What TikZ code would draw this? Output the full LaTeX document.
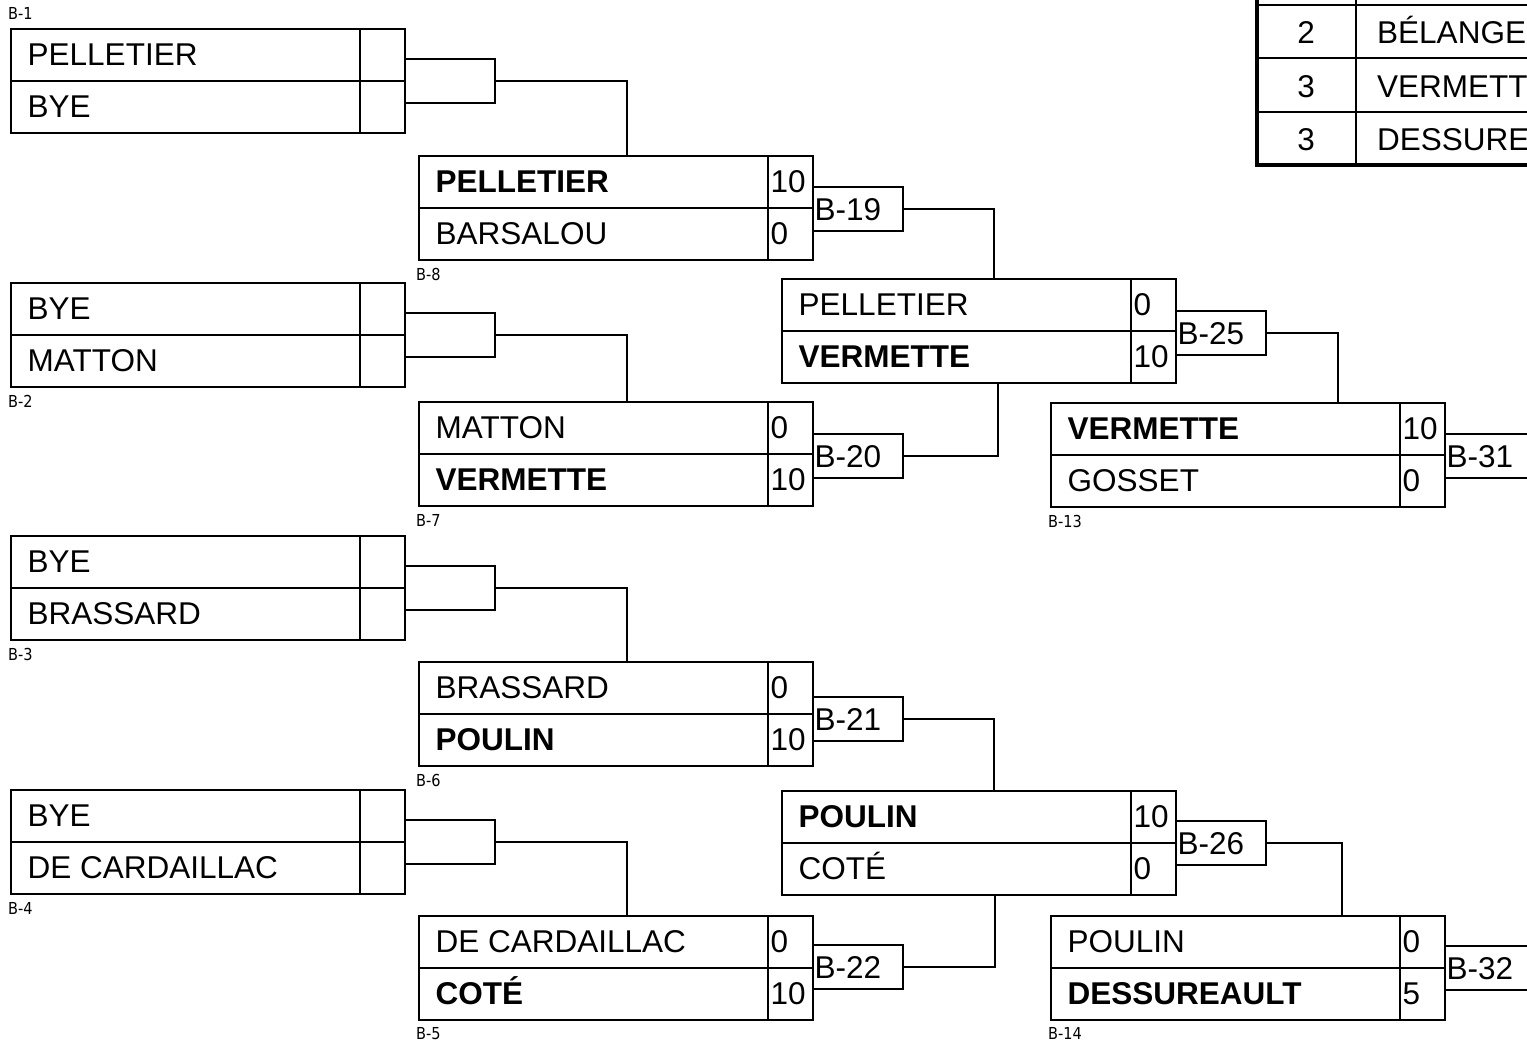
\documentclass[tikz,border=0pt]{standalone}
\usepackage{fontspec}
\setmainfont{Liberation Sans}
\newfontfamily\smallfont[FakeStretch=0.88]{DejaVu Sans}
\tikzset{
  ln/.style={line width=2pt},
  thick border/.style={line width=4pt},
  mbox/.style={draw, line width=2pt, minimum width=394pt, minimum height=103.5pt, inner sep=0pt, anchor=north west},
  lbox/.style={draw, line width=2pt, minimum width=90pt, minimum height=44pt, inner sep=0pt, anchor=north west},
  nm/.style={anchor=base west, inner sep=0pt, font=\fontsize{31.5}{36}\selectfont},
  nmc/.style={anchor=base, inner sep=0pt, font=\fontsize{31.5}{36}\selectfont},
  smalllbl/.style={anchor=base west, inner sep=0pt, font=\smallfont\fontsize{16.5}{18}\selectfont},
}
\newcommand{\matchbox}[7]{%
  \node[mbox] (#1) at (#2,#3) {};
  \draw[ln] (#1.west) -- (#1.east);
  \draw[ln] ([xshift=-46pt]#1.north east) -- ([xshift=-46pt]#1.south east);
  \node[nm] (#1a) at ([xshift=17.5pt,yshift=-37.5pt]#1.north west) {#4};
  \node[nm] (#1as) at ([xshift=-43.5pt,yshift=-37.5pt]#1.north east) {#5};
  \node[nm] (#1b) at ([xshift=17.5pt,yshift=-89.5pt]#1.north west) {#6};
  \node[nm] (#1bs) at ([xshift=-43.5pt,yshift=-89.5pt]#1.north east) {#7};
}
\newcommand{\gamebox}[4]{%
  \node[lbox] (#1) at (#2,#3) {};
  \node[nm] (#1t) at ([xshift=2.5pt,yshift=-11.5pt]#1.west) {#4};
}
\begin{document}
\begin{tikzpicture}[x=1pt,y=-1pt]
\clip (0,0) rectangle (1527,1041);
\fill[white] (0,0) rectangle (1527,1041);

% round 1
\matchbox{m1}{10}{28}{PELLETIER}{}{BYE}{}
\matchbox{m2}{10}{282}{BYE}{}{MATTON}{}
\matchbox{m3}{10}{535}{BYE}{}{BRASSARD}{}
\matchbox{m4}{10}{789}{BYE}{}{DE CARDAILLAC}{}
\node[smalllbl] (l1) at ([xshift=-2pt,yshift=8pt]m1.north west) {B-1};
\node[smalllbl] (l2) at ([xshift=-2pt,yshift=-20pt]m2.south west) {B-2};
\node[smalllbl] (l3) at ([xshift=-2pt,yshift=-20pt]m3.south west) {B-3};
\node[smalllbl] (l4) at ([xshift=-2pt,yshift=-20pt]m4.south west) {B-4};
\gamebox{e1}{404}{58}{}
\gamebox{e2}{404}{312}{}
\gamebox{e3}{404}{565}{}
\gamebox{e4}{404}{819}{}

% round 2
\matchbox{m8}{418}{155}{\bfseries PELLETIER}{10}{BARSALOU}{0}
\matchbox{m7}{418}{401}{MATTON}{0}{\bfseries VERMETTE}{10}
\matchbox{m6}{418}{661}{BRASSARD}{0}{\bfseries POULIN}{10}
\matchbox{m5}{418}{915}{DE CARDAILLAC}{0}{\bfseries COTÉ}{10}
\node[smalllbl] (l8) at ([xshift=-2pt,yshift=-20pt]m8.south west) {B-8};
\node[smalllbl] (l7) at ([xshift=-2pt,yshift=-20pt]m7.south west) {B-7};
\node[smalllbl] (l6) at ([xshift=-2pt,yshift=-20pt]m6.south west) {B-6};
\node[smalllbl] (l5) at ([xshift=-2pt,yshift=-19pt]m5.south west) {B-5};
\gamebox{b19}{812}{186}{B-19}
\gamebox{b20}{812}{433}{B-20}
\gamebox{b21}{812}{696}{B-21}
\gamebox{b22}{812}{944}{B-22}

% round 3
\matchbox{m25}{781}{278}{PELLETIER}{0}{\bfseries VERMETTE}{10}
\matchbox{m26}{781}{790}{\bfseries POULIN}{10}{COTÉ}{0}
\gamebox{b25}{1175}{310}{B-25}
\gamebox{b26}{1175}{820}{B-26}

% round 4
\matchbox{m13}{1050}{402}{\bfseries VERMETTE}{10}{GOSSET}{0}
\matchbox{m14}{1050}{915}{POULIN}{0}{\bfseries DESSUREAULT}{5}
\node[smalllbl] (l13) at ([xshift=-2pt,yshift=-20pt]m13.south west) {B-13};
\node[smalllbl] (l14) at ([xshift=-2pt,yshift=-19pt]m14.south west) {B-14};
\gamebox{b31}{1444}{433}{B-31}
\gamebox{b32}{1444}{945}{B-32}

% connectors
\draw[ln] (e1.east) -| ([xshift=11pt]m8.north);
\draw[ln] (e2.east) -| ([xshift=11pt]m7.north);
\draw[ln] (e3.east) -| ([xshift=11pt]m6.north);
\draw[ln] (e4.east) -| ([xshift=11pt]m5.north);
\draw[ln] (b19.east) -| ([xshift=15pt]m25.north);
\draw[ln] (b20.east) -| ([xshift=19pt]m25.south);
\draw[ln] (b21.east) -| ([xshift=15pt]m26.north);
\draw[ln] (b22.east) -| ([xshift=16pt]m26.south);
\draw[ln] (b25.east) -| ([xshift=90pt]m13.north);
\draw[ln] (b26.east) -| ([xshift=94pt]m14.north);

% standings table (cropped)
\draw[ln] (1255,5) -- (1535,5);
\draw[ln] (1255,58.5) -- (1535,58.5);
\draw[ln] (1255,112) -- (1535,112);
\draw[ln] (1356,-10) -- (1356,165);
\draw[thick border] (1257,-10) -- (1257,165);
\draw[thick border] (1255,165) -- (1535,165);
\node[nmc] (r1n) at (1306,44) {2};
\node[nm] (r1t) at (1377,44) {BÉLANGER};
\node[nmc] (r2n) at (1306,97) {3};
\node[nm] (r2t) at (1377,97) {VERMETTE};
\node[nmc] (r3n) at (1306,150) {3};
\node[nm] (r3t) at (1377,150) {DESSUREAULT};
\end{tikzpicture}
\end{document}
